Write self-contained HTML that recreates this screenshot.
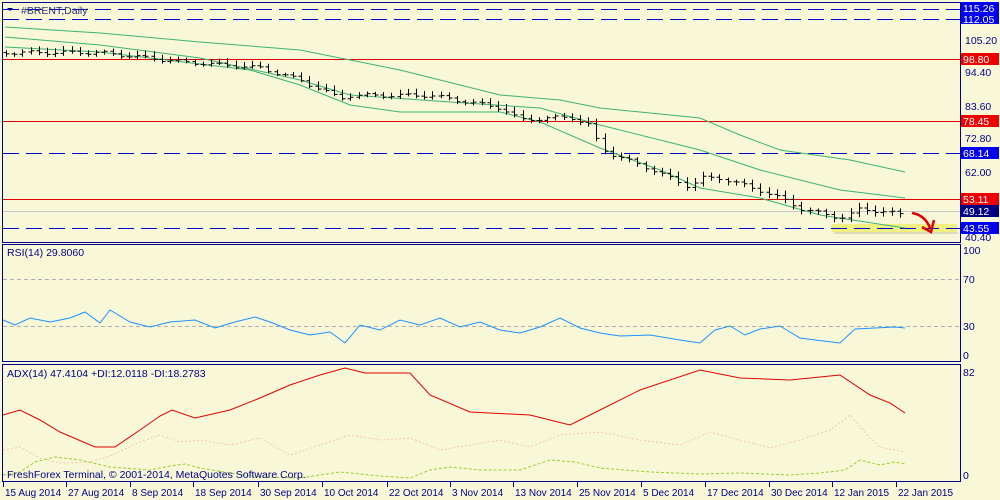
<!DOCTYPE html><html><head><style>
body{margin:0;background:#f8f8d8;}
svg{display:block;font-family:"Liberation Sans",sans-serif;font-size:10.5px;}
</style></head><body>
<svg id="s" width="1000" height="500" xmlns="http://www.w3.org/2000/svg">
<rect width="1000" height="500" fill="#f8f8d8"/>
<g fill="none" stroke="#00008b" stroke-width="1">
<rect x="2.5" y="2.5" width="958" height="240"/>
<rect x="2.5" y="244.5" width="958" height="117"/>
<rect x="2.5" y="364.5" width="958" height="117"/>
</g>
<g stroke-width="1">
<line x1="3" x2="960" y1="9.5" y2="9.5" stroke="#0000cc" stroke-dasharray="16,7"/>
<line x1="3" x2="960" y1="19.5" y2="19.5" stroke="#0000cc" stroke-dasharray="16,7"/>
<line x1="3" x2="960" y1="59.5" y2="59.5" stroke="#e00000"/>
<line x1="3" x2="960" y1="121.5" y2="121.5" stroke="#e00000"/>
<line x1="3" x2="960" y1="153.5" y2="153.5" stroke="#0000cc" stroke-dasharray="16,7"/>
<line x1="3" x2="960" y1="199.5" y2="199.5" stroke="#e00000"/>
<line x1="3" x2="960" y1="211.5" y2="211.5" stroke="#c8c8c8"/>
</g>
<rect x="832" y="224" width="125" height="8" fill="#f0f080"/>
<rect x="834" y="232" width="124" height="2" fill="#c0c0a0" opacity="0.5"/>
<line x1="3" x2="960" y1="228.5" y2="228.5" stroke="#0000cc" stroke-dasharray="16,7"/>
<g fill="none" stroke="#3cb371" stroke-width="1">
<polyline points="5,27 100,33 200,42 300,50 400,70 500,95 560,100 600,108 700,118 740,135 780,150 850,160 905,172"/>
<polyline points="5,37 100,45 200,58 300,80 350,95 450,102 540,108 600,125 700,150 760,170 840,190 905,198"/>
<polyline points="5,47 100,52 250,70 300,85 350,105 400,112 500,112 540,122 600,148 660,170 700,188 760,198 820,215 905,228"/>
</g>
<g id="bars" stroke="#000" stroke-width="1" fill="none"></g>
<path d="M912,213 Q925,215 930,228" stroke="#e00000" stroke-width="2.5" fill="none"/>
<path d="M922,227 L931,232 L934,220" stroke="#e00000" stroke-width="2.5" fill="none"/>
<g stroke="#b0b0b0" stroke-dasharray="4,3"><line x1="3" x2="960" y1="279.5" y2="279.5"/><line x1="3" x2="960" y1="326.5" y2="326.5"/></g>
<polyline fill="none" stroke="#1e90ff" points="3,320 15,325 30,318 50,322 70,318 85,312 100,323 110,310 130,322 150,327 170,322 195,320 215,328 235,322 255,317 270,322 290,330 310,335 330,332 345,343 360,325 380,330 400,320 420,325 440,318 460,327 480,322 500,330 520,333 540,327 560,318 580,328 600,333 620,336 650,335 680,340 700,343 715,330 730,326 745,335 760,329 780,326 800,338 815,340 840,343 855,329 875,328 895,327 905,328"/>
<polyline fill="none" stroke="#f4c8a8" stroke-dasharray="2,2" points="3,450 20,447 40,458 60,463 90,462 110,456 140,442 160,435 180,442 200,440 230,445 260,438 290,455 320,445 350,435 380,440 410,438 440,450 470,445 500,440 530,447 560,435 600,432 640,440 680,445 710,432 740,440 770,448 800,440 830,430 850,415 870,438 880,447 905,452"/>
<polyline fill="none" stroke="#9acd32" stroke-dasharray="3,2" points="3,475 20,472 35,462 55,457 80,460 110,467 150,470 170,466 185,464 200,468 230,473 260,477 300,478 340,472 380,476 410,478 430,470 450,467 480,470 520,470 550,460 575,462 600,468 650,472 700,474 740,473 790,475 820,473 845,470 860,460 880,465 895,462 905,464"/>
<polyline fill="none" stroke="#e00000" points="3,415 20,410 40,420 60,432 95,447 115,447 140,430 160,416 172,410 195,418 230,410 260,398 290,385 320,375 345,368 365,373 410,373 430,395 470,412 530,415 570,425 600,410 640,390 700,370 740,378 790,380 840,375 870,395 890,403 905,413"/>
<g fill="#00008b">
<text x="21" y="14" fill="#303070">#BRENT,Daily</text>
<path d="M7,8 L13,8 L10,11 Z"/>
<text x="7" y="256">RSI(14) 29.8060</text>
<text x="7" y="377">ADX(14) 47.4104 +DI:12.0118 -DI:18.2783</text>
<text x="7" y="478">FreshForex Terminal, © 2001-2014, MetaQuotes Software Corp.</text>
<text x="965" y="44">105.20</text>
<text x="965" y="76">94.40</text>
<text x="965" y="110">83.60</text>
<text x="965" y="142">72.80</text>
<text x="965" y="176">62.00</text>
<text x="965" y="241">40.40</text>
<text x="963" y="254">100</text>
<text x="963" y="283">70</text>
<text x="963" y="330">30</text>
<text x="963" y="359">0</text>
<text x="963" y="376">82</text>
<text x="963" y="479">0</text>
</g>
<g fill="#fff">
<rect x="961" y="2" width="38" height="11" fill="#0000ee"/><text x="963" y="12">115.26</text>
<rect x="961" y="13" width="38" height="11" fill="#0000ee"/><text x="963" y="23">112.05</text>
<rect x="961" y="53" width="38" height="12" fill="#ee0000"/><text x="963" y="63">98.80</text>
<rect x="961" y="115" width="38" height="12" fill="#ee0000"/><text x="963" y="125">78.45</text>
<rect x="961" y="147" width="38" height="12" fill="#0000ee"/><text x="963" y="157">68.14</text>
<rect x="961" y="193" width="38" height="12" fill="#ee0000"/><text x="963" y="203">53.11</text>
<rect x="961" y="205" width="38" height="12" fill="#000080"/><text x="963" y="215">49.12</text>
<rect x="961" y="222" width="38" height="12" fill="#0000ee"/><text x="963" y="232">43.55</text>
</g>
<g id="dates" fill="#00008b" font-size="10"></g>
</svg>
<script>
var pts=[[5,101],[100,101],[180,98],[260,96],[300,92],[340,86],[350,87],[430,87],[500,83],[520,79],[570,80],[590,77],[600,70],[610,68],[650,63],[690,57],[700,60],[720,60],[760,56],[790,52],[800,50],[840,47],[850,48],[860,50],[905,48]];
function P(x){for(var i=1;i<pts.length;i++){if(x<=pts[i][0]){var a=pts[i-1],b=pts[i];return a[1]+(b[1]-a[1])*(x-a[0])/(b[0]-a[0]);}}return 48;}
function Y(p){return 9+(115.26-p)*3.06;}
var d="",prev=P(5);
for(var x=6;x<=906;x+=8.2){var c=P(x)+Math.sin(x*1.7)*0.6,o=prev;var hi=Math.max(o,c)+0.5+Math.abs(Math.sin(x*3.1))*1.2,lo=Math.min(o,c)-0.5-Math.abs(Math.cos(x*2.3))*1.2;var xx=Math.round(x)+0.5;
d+="M"+xx+","+Y(hi).toFixed(1)+"V"+Y(lo).toFixed(1)+"M"+(xx-3)+","+Y(o).toFixed(1)+"H"+xx+"M"+xx+","+Y(c).toFixed(1)+"H"+(xx+3);prev=c;}
var ns="http://www.w3.org/2000/svg";var p=document.createElementNS(ns,"path");p.setAttribute("d",d);document.getElementById("bars").appendChild(p);
var ds=[[3,"15 Aug 2014"],[66,"27 Aug 2014"],[130,"8 Sep 2014"],[193,"18 Sep 2014"],[258,"30 Sep 2014"],[322,"10 Oct 2014"],[387,"22 Oct 2014"],[450,"3 Nov 2014"],[513,"13 Nov 2014"],[577,"25 Nov 2014"],[641,"5 Dec 2014"],[705,"17 Dec 2014"],[769,"30 Dec 2014"],[832,"12 Jan 2015"],[896,"22 Jan 2015"]];
var g=document.getElementById("dates");ds.forEach(function(e){var t=document.createElementNS(ns,"text");t.setAttribute("x",e[0]+2);t.setAttribute("y",496);t.textContent=e[1];g.appendChild(t);var l=document.createElementNS(ns,"line");l.setAttribute("x1",e[0]+0.5);l.setAttribute("x2",e[0]+0.5);l.setAttribute("y1",482);l.setAttribute("y2",487);l.setAttribute("stroke","#00008b");g.appendChild(l);});
</script>
</body></html>
